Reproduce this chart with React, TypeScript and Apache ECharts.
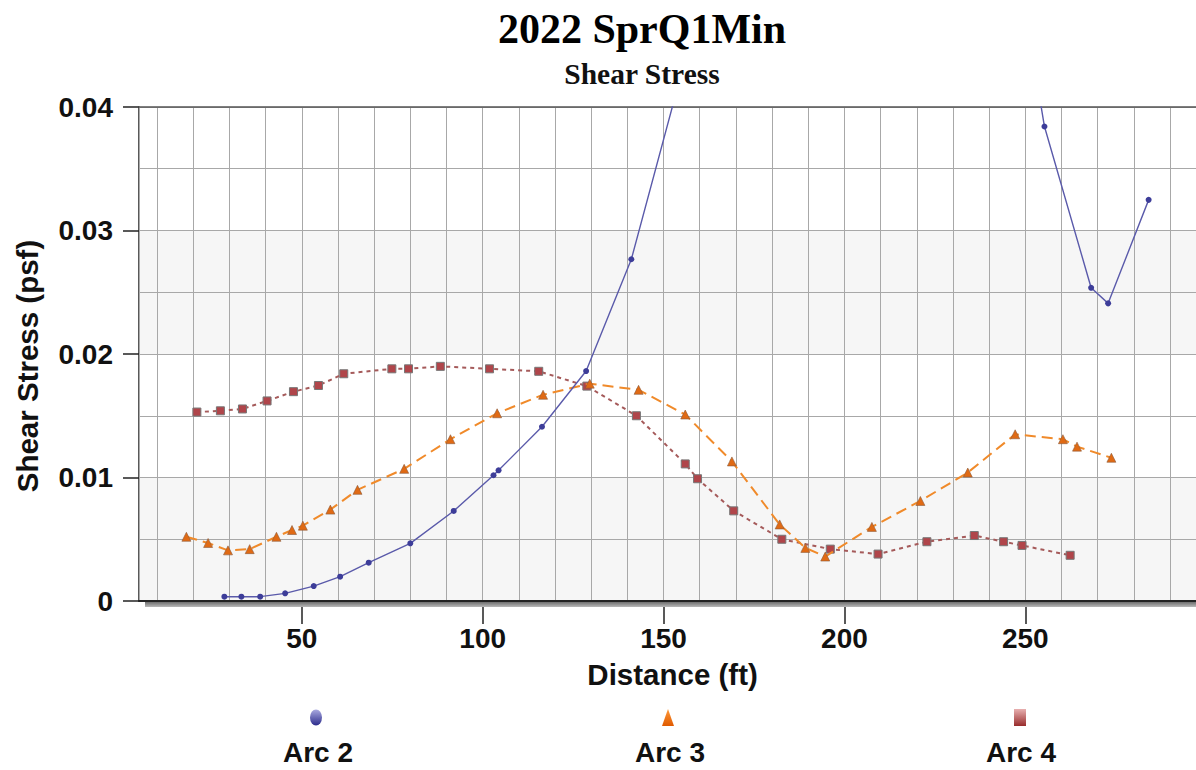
import React, { useEffect, useRef } from 'react';
import * as echarts from 'echarts';

// ---------- texts ----------
const TITLE = '2022 SprQ1Min';
const SUBTITLE = 'Shear Stress';
const X_NAME = 'Distance (ft)';
const Y_NAME = 'Shear Stress (psf)';
const SERIES_NAMES = ['Arc 2', 'Arc 3', 'Arc 4'];

// ---------- ticks ----------
const X_TICKS = [50, 100, 150, 200, 250];
const Y_TICKS = [0, 0.01, 0.02, 0.03, 0.04];

// ---------- data ----------
const arc2Distance = [28.6, 33.3, 38.5, 45.4, 53.3, 60.6, 68.5, 80.0, 92.0, 103.0, 104.4, 116.4, 128.6, 141.1, 155, 168, 182, 195, 208, 222, 235, 243, 255.3, 268.2, 272.9, 284.1];
const arc2Stress = [0.00035, 0.00035, 0.00035, 0.00062, 0.00121, 0.00197, 0.0031, 0.00467, 0.00729, 0.01018, 0.01058, 0.01411, 0.01862, 0.02767, 0.0428, 0.051, 0.058, 0.063, 0.066, 0.066, 0.064, 0.060, 0.03842, 0.02536, 0.0241, 0.03248];

const arc3Distance = [18.1, 24.1, 29.6, 35.6, 43.0, 47.3, 50.3, 57.9, 65.4, 78.3, 91.1, 104.0, 116.7, 129.6, 143.1, 156.0, 168.9, 182.1, 189.2, 194.7, 207.6, 221.0, 234.1, 247.2, 260.4, 264.3, 273.8];
const arc3Stress = [0.0052, 0.0047, 0.0041, 0.0042, 0.0052, 0.00575, 0.0061, 0.0074, 0.009, 0.0107, 0.0131, 0.0152, 0.0167, 0.0176, 0.0171, 0.0151, 0.0113, 0.0062, 0.0043, 0.0036, 0.006, 0.0081, 0.0104, 0.0135, 0.0131, 0.0125, 0.0116];

const arc4Distance = [21.0, 27.5, 33.6, 40.4, 47.7, 54.6, 61.6, 74.9, 79.5, 88.3, 101.9, 115.5, 128.8, 142.5, 156.0, 159.4, 169.4, 182.7, 196.1, 209.3, 222.8, 235.9, 244.0, 249.1, 262.4];
const arc4Stress = [0.0153, 0.0154, 0.01555, 0.0162, 0.01695, 0.01745, 0.0184, 0.0188, 0.0188, 0.019, 0.0188, 0.0186, 0.0174, 0.015, 0.0111, 0.0099, 0.0073, 0.005, 0.0042, 0.0038, 0.0048, 0.0053, 0.0048, 0.0045, 0.0037];

// ---------- layout ----------
const W = 1196;
const H = 770;
const GRID_LEFT = 139;
const GRID_TOP = 107;
const GRID_BOTTOM_Y = 601;
const X_MIN = 5;
const X_MAX = 300;
const PX_PER_FT = 3.6175;
const GRID_RIGHT = W - (GRID_LEFT + (X_MAX - X_MIN) * PX_PER_FT);
const LEGEND_CX = [316, 668, 1020];
const LEGEND_LABEL_CX = [318, 670, 1021];

const SANS = '"Liberation Sans", Arial, sans-serif';
const SERIF = '"Liberation Serif", "Times New Roman", serif';

const pairs = (xs: number[], ys: number[]) => xs.map((x, i) => [x, ys[i]]);

export default function App() {
  const ref = useRef<HTMLDivElement>(null);

  useEffect(() => {
    if (!ref.current) return;
    const chart = echarts.init(ref.current, null, { renderer: 'svg' });

    const grad = (a: string, b: string) =>
      new echarts.graphic.LinearGradient(0, 0, 0, 1, [
        { offset: 0, color: a },
        { offset: 1, color: b },
      ]);

    const legendIcons = [
      'path://M6,0 A6,8 0 1,1 6,16 A6,8 0 1,1 6,0 Z',
      'triangle',
      'rect',
    ];
    const legendColors = [
      grad('#a9a9e0', '#2c2c8c'),
      grad('#ff9a3a', '#e05a00'),
      grad('#e8b0b0', '#982c2c'),
    ];

    const option: any = {
      animation: false,
      backgroundColor: '#ffffff',
      title: {
        text: TITLE,
        subtext: SUBTITLE,
        left: 637,
        textAlign: 'center',
        top: 3,
        itemGap: 9,
        textStyle: { fontFamily: SERIF, fontWeight: 'bold', fontSize: 42, color: '#000' },
        subtextStyle: { fontFamily: SERIF, fontWeight: 'bold', fontSize: 29.5, color: '#111' },
      },
      grid: {
        left: GRID_LEFT,
        top: GRID_TOP,
        right: GRID_RIGHT,
        bottom: H - GRID_BOTTOM_Y,
        containLabel: false,
        outerBoundsMode: 'none',
      },
      legend: SERIES_NAMES.map((name, i) => ({
        data: [{ name, icon: legendIcons[i], itemStyle: { color: legendColors[i], borderWidth: 0 } }],
        left: LEGEND_CX[i] - 6,
        top: 709,
        itemWidth: 12,
        itemHeight: 17,
        padding: 0,
        selectedMode: false,
        formatter: () => '',
        textStyle: { fontSize: 1 },
      })),
      xAxis: [
        {
          type: 'value',
          min: X_MIN,
          max: X_MAX,
          minInterval: 10,
          maxInterval: 10,
          position: 'bottom',
          axisLine: { show: true, lineStyle: { color: '#222', width: 2 } },
          axisTick: { show: false },
          axisLabel: { show: false },
          splitLine: { show: true, lineStyle: { color: '#a8a8a8', width: 1 } },
        },
        {
          type: 'value',
          min: X_MIN,
          max: X_MAX,
          minInterval: 50,
          maxInterval: 50,
          position: 'bottom',
          name: X_NAME,
          nameLocation: 'middle',
          nameGap: 58,
          nameTextStyle: { fontFamily: SANS, fontWeight: 'bold', fontSize: 29.5, color: '#111' },
          axisLine: { show: false },
          axisTick: { show: true, customValues: X_TICKS, length: 23, lineStyle: { color: '#222', width: 1.5 } },
          axisLabel: {
            show: true,
            customValues: X_TICKS,
            margin: 23,
            fontFamily: SANS,
            fontWeight: 'bold',
            fontSize: 28,
            color: '#111',
            formatter: (v: number) => (X_TICKS.includes(v) ? String(v) : ''),
          },
          splitLine: { show: false },
        },
        {
          type: 'value',
          min: X_MIN,
          max: X_MAX,
          position: 'top',
          axisLine: { show: true, onZero: false, lineStyle: { color: '#555', width: 1.5 } },
          axisTick: { show: false },
          axisLabel: { show: false },
          splitLine: { show: false },
        },
      ],
      yAxis: [
        {
          type: 'value',
          min: 0,
          max: 0.04,
          interval: 0.005,
          position: 'left',
          axisLine: { show: false },
          axisTick: { show: false },
          axisLabel: { show: false },
          splitLine: { show: true, lineStyle: { color: '#a8a8a8', width: 1 } },
        },
        {
          type: 'value',
          min: 0,
          max: 0.04,
          interval: 0.01,
          position: 'left',
          offset: 0,
          z: -1,
          name: Y_NAME,
          nameLocation: 'middle',
          nameGap: 97,
          nameTextStyle: { fontFamily: SANS, fontWeight: 'bold', fontSize: 29.5, color: '#111', padding: [0, 24, 0, 0] },
          axisLine: { show: true, onZero: false, lineStyle: { color: '#222', width: 1.5 } },
          axisTick: { show: true, length: 16, lineStyle: { color: '#222', width: 1.5 } },
          axisLabel: {
            margin: 26,
            fontFamily: SANS,
            fontWeight: 'bold',
            fontSize: 28,
            color: '#111',
            formatter: (v: number) => {
              const t = Y_TICKS.find((y) => Math.abs(y - v) < 1e-9);
              return t === undefined ? '' : t === 0 ? '0' : t.toFixed(2);
            },
          },
          splitLine: { show: false },
          splitArea: { show: true, areaStyle: { color: ['#f6f6f6', '#ffffff'] } },
        },
      ],
      graphic: [
        {
          type: 'rect',
          z: 1,
          silent: true,
          shape: { x: GRID_LEFT + 6, y: GRID_BOTTOM_Y + 1, width: W, height: 5 },
          style: { fill: grad('#6e6e6e', '#b8b8b8') },
        },
        ...SERIES_NAMES.map((name, i) => ({
          type: 'text',
          x: LEGEND_LABEL_CX[i],
          y: 752,
          silent: true,
          style: {
            text: name,
            fontFamily: SANS,
            fontWeight: 'bold',
            fontSize: 28,
            fill: '#111',
            align: 'center',
            verticalAlign: 'middle',
          },
        })),
      ],
      series: [
        {
          name: SERIES_NAMES[0],
          type: 'line',
          xAxisIndex: 0,
          yAxisIndex: 0,
          z: 5,
          data: pairs(arc2Distance, arc2Stress),
          symbol: 'circle',
          symbolSize: 6,
          itemStyle: { color: '#3d3d99' },
          lineStyle: { color: '#5a5aaa', width: 1.4 },
          clip: true,
        },
        {
          name: SERIES_NAMES[1],
          type: 'line',
          xAxisIndex: 0,
          yAxisIndex: 0,
          z: 4,
          data: pairs(arc3Distance, arc3Stress),
          symbol: 'triangle',
          symbolSize: 9,
          itemStyle: { color: '#e06a14', borderColor: '#8c5a3a', borderWidth: 0.6 },
          lineStyle: { color: '#f08a2a', width: 2, type: [11, 6] },
          clip: true,
        },
        {
          name: SERIES_NAMES[2],
          type: 'line',
          xAxisIndex: 0,
          yAxisIndex: 0,
          z: 3,
          data: pairs(arc4Distance, arc4Stress),
          symbol: 'rect',
          symbolSize: 8,
          itemStyle: { color: '#b0454a', borderColor: '#777', borderWidth: 1 },
          lineStyle: { color: '#a55a5a', width: 2, type: [4, 4] },
          clip: true,
        },
      ],
    };

    chart.setOption(option);
    return () => chart.dispose();
  }, []);

  return (
    <div
      ref={ref}
      style={{ position: 'fixed', left: 0, top: 0, width: W, height: H, overflow: 'hidden', background: '#fff' }}
    />
  );
}
